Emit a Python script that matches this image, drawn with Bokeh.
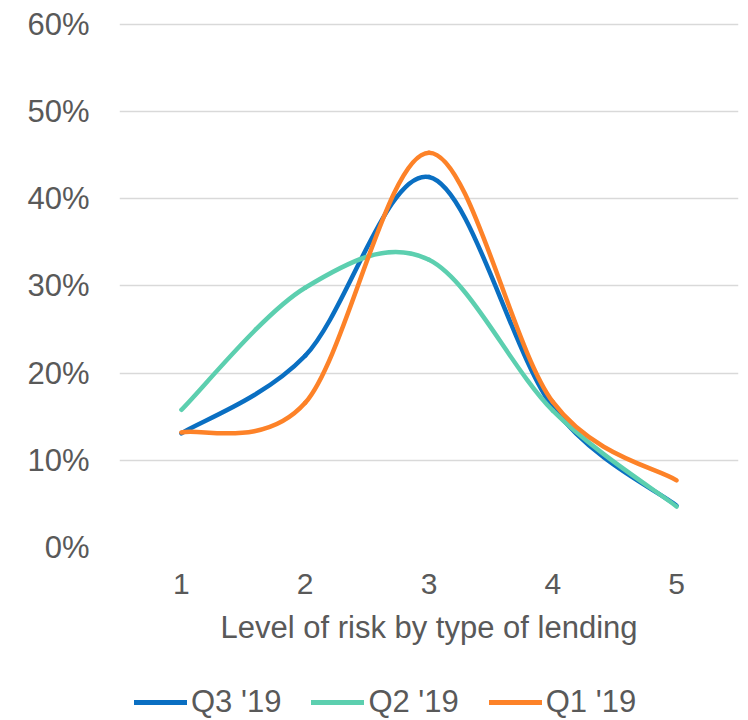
from bokeh.plotting import figure
from bokeh.layouts import column
from bokeh.models import (ColumnDataSource, FixedTicker, CustomJSTickFormatter,
                          Legend, LegendItem, Range1d)
from bokeh.embed import file_html
from bokeh.resources import INLINE

# ---- data (percent) ----
risk_levels = [1, 2, 3, 4, 5]
tick_labels = ["1", "2", "3", "4", "5"]
q3_19 = [13.1, 22.0, 42.5, 16.1, 4.8]
q2_19 = [15.8, 29.8, 33.0, 15.7, 4.7]
q1_19 = [13.2, 16.6, 45.3, 16.7, 7.7]
y_ticks = [0, 10, 20, 30, 40, 50, 60]

series = [("Q3 '19", q3_19, "#0a6fc2"),
          ("Q2 '19", q2_19, "#5ccfaf"),
          ("Q1 '19", q1_19, "#fd8228")]

FONT = "Liberation Sans"
TXT = "#595959"


def smooth_segments(xs, ys):
    """Bezier segments through the data points (Excel-like smoothing)."""
    n = len(xs)
    d = dict(x0=[], y0=[], x1=[], y1=[], cx0=[], cy0=[], cx1=[], cy1=[])
    for i in range(n - 1):
        i0 = max(i - 1, 0)
        i3 = min(i + 2, n - 1)
        d["x0"].append(xs[i]); d["y0"].append(ys[i])
        d["x1"].append(xs[i + 1]); d["y1"].append(ys[i + 1])
        d["cx0"].append(xs[i] + (xs[i + 1] - xs[i0]) / 6.0)
        d["cy0"].append(ys[i] + (ys[i + 1] - ys[i0]) / 6.0)
        d["cx1"].append(xs[i + 1] - (xs[i3] - xs[i]) / 6.0)
        d["cy1"].append(ys[i + 1] - (ys[i3] - ys[i]) / 6.0)
    return d


p = figure(width=748, height=655, output_backend="svg", toolbar_location=None,
           x_range=Range1d(0.5, 5.5), y_range=Range1d(0, 60.344),
           min_border_left=119, min_border_right=10, min_border_top=21,
           min_border_bottom=108)
p.outline_line_color = None

for name, vals, col in series:
    src = ColumnDataSource(smooth_segments(risk_levels, vals))
    p.bezier(x0="x0", y0="y0", x1="x1", y1="y1", cx0="cx0", cy0="cy0",
             cx1="cx1", cy1="cy1", source=src, line_color=col,
             line_width=4.5, line_cap="round")

# axes
p.xaxis.ticker = FixedTicker(ticks=risk_levels)
p.xaxis.major_label_overrides = {k: v for k, v in zip(risk_levels, tick_labels)}
p.xaxis.axis_label = "Level of risk by type of lending"
p.yaxis.ticker = FixedTicker(ticks=y_ticks)
p.yaxis.formatter = CustomJSTickFormatter(code="return tick.toFixed(0) + '%';")

for ax in (p.xaxis[0], p.yaxis[0]):
    ax.axis_line_color = None
    ax.major_tick_line_color = None
    ax.minor_tick_line_color = None
    ax.major_tick_out = 0
    ax.major_tick_in = 0
    ax.major_label_text_font = FONT
    ax.major_label_text_color = TXT
    ax.major_label_text_font_size = "31px"
    ax.axis_label_text_font = FONT
    ax.axis_label_text_color = TXT
    ax.axis_label_text_font_size = "31px"
    ax.axis_label_text_font_style = "normal"

p.xaxis.major_label_standoff = 26
p.xaxis.axis_label_standoff = 13
p.xaxis.major_label_text_font_size = "30px"
p.yaxis.major_label_standoff = 30

p.xgrid.grid_line_color = None
p.ygrid.ticker = FixedTicker(ticks=y_ticks)
p.ygrid.grid_line_color = "#d9d9d9"
p.ygrid.grid_line_width = 1.5

# ---- legend strip below the chart (series lines lie outside its view) ----
leg = figure(width=748, height=65, output_backend="svg", toolbar_location=None,
             x_range=Range1d(0.5, 5.5), y_range=Range1d(-20, -10),
             min_border=0)
leg.outline_line_color = None
leg.axis.visible = False
leg.grid.visible = False
items = []
for name, vals, col in series:
    r = leg.line(x=risk_levels, y=vals, line_color=col, line_width=5,
                 line_cap="round")
    items.append(LegendItem(label=name, renderers=[r]))

legend = Legend(items=items, orientation="horizontal", location=(15, 0),
                label_text_font=FONT, label_text_color=TXT,
                label_text_font_size="31px", glyph_width=53, glyph_height=20,
                spacing=30, label_standoff=4, padding=0, margin=0,
                border_line_alpha=0, background_fill_alpha=0)
leg.add_layout(legend, "center")

layout = column(p, leg, spacing=0)
open("out.html", "w").write(file_html(layout, INLINE))
